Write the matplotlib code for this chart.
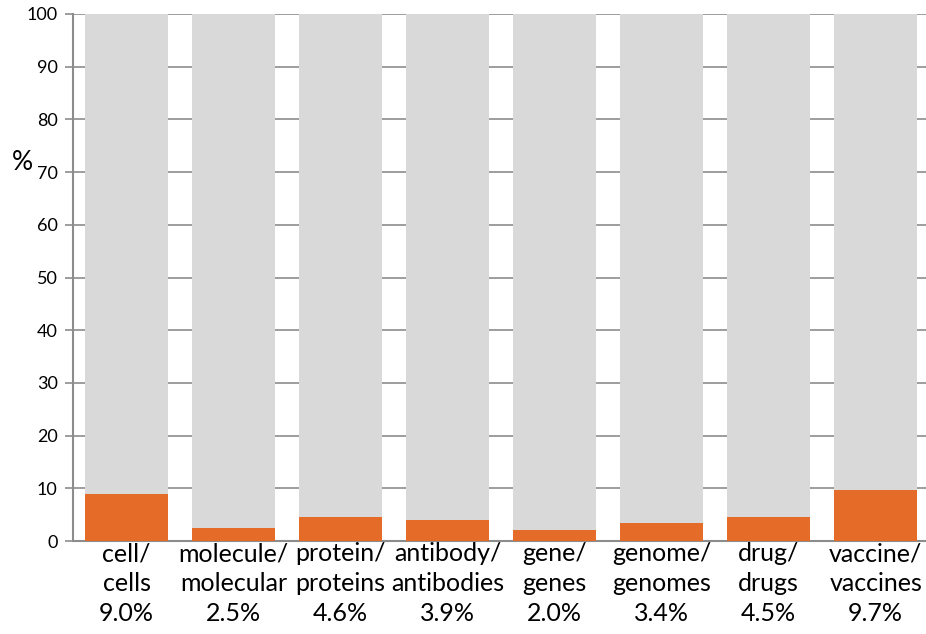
import numpy as np
import matplotlib.pyplot as plt

categories = ['cell/\ncells', 'molecule/\nmolecular', 'protein/\nproteins', 'antibody/\nantibodies',
              'gene/\ngenes', 'genome/\ngenomes', 'drug/\ndrugs', 'vaccine/\nvaccines']
shares = [9.0, 2.5, 4.6, 3.9, 2.0, 3.4, 4.5, 9.7]
total = 100

plt.rcParams['font.family'] = ['Lato', 'DejaVu Sans']

fig = plt.figure(figsize=(9.26, 6.34), dpi=100)
ax = fig.add_axes([73 / 926, 1 - 541 / 634, 1 - 73 / 926, (541 - 14) / 634])

x = np.arange(len(categories))
rest = [total - s for s in shares]
ax.bar(x, shares, width=0.77, color='#E46C28', zorder=3)
ax.bar(x, rest, bottom=shares, width=0.77, color='#D9D9D9', zorder=3)

ax.set_ylim(0, 100)
ax.set_xlim(-0.5, 7.47)
ax.set_yticks(np.arange(0, 101, 10))
ax.yaxis.grid(True, color='#8c8c8c', linewidth=1.2, zorder=0)
ax.set_axisbelow(True)

labels = [f'{c}\n{s:.1f}%' for c, s in zip(categories, shares)]
ax.set_xticks(x)
ax.set_xticklabels(labels, fontsize=18, linespacing=1.36)
ax.tick_params(axis='x', length=0, pad=1)
ax.tick_params(axis='y', length=6, width=1.2, color='#8c8c8c', labelsize=13, pad=5)

for side in ['top', 'right']:
    ax.spines[side].set_visible(False)
ax.spines['left'].set_color('#8c8c8c')
ax.spines['left'].set_linewidth(1.5)
ax.spines['bottom'].set_color('#8c8c8c')
ax.spines['bottom'].set_linewidth(1.5)

fig.text(22 / 926, 1 - 163 / 634, '%', fontsize=19, ha='center', va='center')

fig.savefig('out.png', dpi=100)
